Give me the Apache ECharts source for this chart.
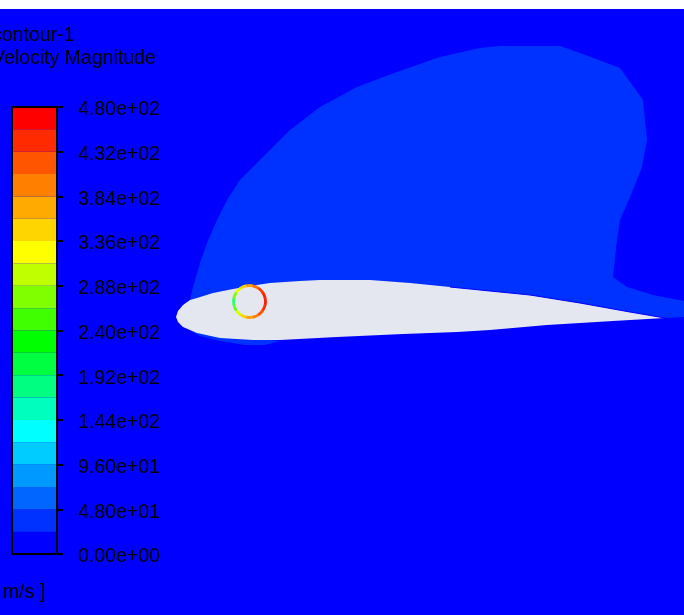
<!DOCTYPE html>
<html><head><meta charset="utf-8">
<script src="https://cdn.jsdelivr.net/npm/echarts@6/dist/echarts.min.js"></script>
<style>html,body{margin:0;padding:0;background:#fff}#c{width:684px;height:615px}</style>
</head><body><div id="c"></div>
<script>
// ---- legend / colour scale ----
const titleLines = ['contour-1', 'Velocity Magnitude'];
const unitLabel = '[ m/s ]';
const levelMin = 0, levelMax = 480, levelStep = 48;
const bandEdges = [0, 24, 48, 72, 96, 120, 144, 168, 192, 216, 240, 264, 288, 312, 336, 360, 384, 408, 432, 456, 480];
const bandColors = ['#0000ff', '#0032ff', '#0066ff', '#0099ff', '#00ccff', '#00ffff', '#00ffbf', '#00ff80', '#00ff40', '#00ff00',
  '#40ff00', '#80ff00', '#bfff00', '#ffff00', '#ffd500', '#ffaa00', '#ff8000', '#ff5500', '#ff2a00', '#ff0000'];

// ---- field shapes (domain units) ----
const wakeOutline = [[190,300],[193,287],[200,263],[207,243],[217,220],[227,200],[240,180],[257,163],[290,130],[320,107],[357,87],[397,72],[440,57],[480,48],[500,46],[560,46],[580,53],[620,68],[643,100],[647,140],[642,167],[630,197],[620,220],[617,240],[613,277],[627,287],[653,295],[684,301],[684,317],[665,318],[400,290],[185,312]];
const lowerSliver = [[186,328],[200,336],[220,341],[245,345],[265,345],[280,341],[250,338],[210,333]];
const airfoilUpper = [[176,317],[178,311],[183,305],[190,300],[197,298],[213,293],[233,289],[250,286],[270,283],[300,281],[320,280],[370,280],[410,283],[450,287],[490,291],[530,295],[580,303],[630,312],[665,318]];
const airfoilLower = [[665,318],[613,321],[547,325],[490,330],[457,332],[403,334],[337,337],[280,340],[253,340],[220,338],[197,333],[183,327],[178,322]];
const upperEdgeStart = 430;
const ringCenter = [249.5, 301.5];
const ringRadius = 16;
const ringColors = ['#ff1a00','#ff3000','#ff5000','#ff7a00','#ffa000','#ffd000','#d8ff00','#60ff20','#30ff70','#80ff00','#e0ff00','#ffd000','#ffa000','#ff7000','#ff3c00','#ff2000'];

const lightBlue = '#0032ff';
const airfoilFill = '#e5e7f0';
const fieldBlue = '#0000ff';

function sci(v) {
  if (v === 0) return '0.00e+00';
  let e = Math.floor(Math.log10(Math.abs(v)));
  let s = (v / Math.pow(10, e)).toFixed(2);
  if (s === '10.00') { s = '1.00'; e++; }
  return s + 'e' + (e < 0 ? '-' : '+') + String(Math.abs(e)).padStart(2, '0');
}

const font = '"Liberation Sans", Arial, sans-serif';
const chart = echarts.init(document.getElementById('c'), null, {renderer: 'canvas'});

function renderField(params, api) {
  const pts = a => a.map(p => api.coord(p));
  const children = [];
  children.push({type: 'polygon', shape: {points: pts(wakeOutline)}, style: {fill: lightBlue}});
  children.push({type: 'polygon', shape: {points: pts(lowerSliver)}, style: {fill: lightBlue}});
  children.push({type: 'polygon', shape: {points: pts(airfoilUpper.concat(airfoilLower))}, style: {fill: airfoilFill}});
  children.push({type: 'polyline', shape: {points: pts(airfoilUpper.filter(p => p[0] >= upperEdgeStart))}, style: {stroke: fieldBlue, lineWidth: 1.2, fill: null}});
  const c = api.coord(ringCenter);
  const r = api.size([ringRadius, 0])[0];
  const n = ringColors.length;
  ringColors.forEach((col, i) => {
    const a0 = (i - 0.5) * 2 * Math.PI / n, a1 = (i + 0.5) * 2 * Math.PI / n + 0.02;
    children.push({type: 'sector', shape: {cx: c[0], cy: c[1], r0: r - 1.4, r: r + 1.4, startAngle: a0, endAngle: a1, clockwise: true}, style: {fill: col}});
  });
  return {type: 'group', children};
}

const bandSeries = bandColors.map((col, i) => ({
  type: 'bar', xAxisIndex: 1, yAxisIndex: 1, stack: 'cb', barWidth: '100%', silent: true, z: 3,
  data: [bandEdges[i + 1] - bandEdges[i]], itemStyle: {color: col}
}));

chart.setOption({
  animation: false,
  backgroundColor: '#ffffff',
  grid: [
    {left: 0, right: 0, top: 9, bottom: 0, show: true, backgroundColor: fieldBlue, borderWidth: 0, z: 0},
    {left: 12, top: 107, width: 45, height: 447, show: true, backgroundColor: 'transparent', borderColor: '#000', borderWidth: 2, z: 10}
  ],
  xAxis: [
    {gridIndex: 0, type: 'value', min: 0, max: 684, show: false},
    {gridIndex: 1, type: 'category', data: ['band'], show: false}
  ],
  yAxis: [
    {gridIndex: 0, type: 'value', min: 9, max: 615, inverse: true, show: false},
    {gridIndex: 1, type: 'value', min: levelMin, max: levelMax, interval: levelStep, position: 'right', z: 11,
     splitLine: {show: false},
     axisLine: {show: true, lineStyle: {color: '#000', width: 2}},
     axisTick: {show: true, inside: false, length: 6, lineStyle: {color: '#000', width: 2}},
     axisLabel: {show: true, margin: 21, color: '#000', fontSize: 19.5, fontFamily: font,
       formatter: v => '{v|' + sci(v) + '}',
       rich: {v: {color: '#000', fontSize: 19.5, fontFamily: font, padding: [6, 0, 0, 0]}},
       showMinLabel: true, showMaxLabel: true}}
  ],
  graphic: [
    {type: 'text', x: -8, y: 36, z: 20, style: {text: titleLines[0], fill: '#000', fontSize: 19.5, fontFamily: font, verticalAlign: 'middle'}},
    {type: 'text', x: -8, y: 59, z: 20, style: {text: titleLines[1], fill: '#000', fontSize: 19.5, fontFamily: font, verticalAlign: 'middle'}},
    {type: 'text', x: -8, y: 593, z: 20, style: {text: unitLabel, fill: '#000', fontSize: 19.5, fontFamily: font, verticalAlign: 'middle'}}
  ],
  series: [
    {type: 'custom', xAxisIndex: 0, yAxisIndex: 0, data: [0], renderItem: renderField, silent: true, z: 2}
  ].concat(bandSeries)
});
</script>
</body></html>
